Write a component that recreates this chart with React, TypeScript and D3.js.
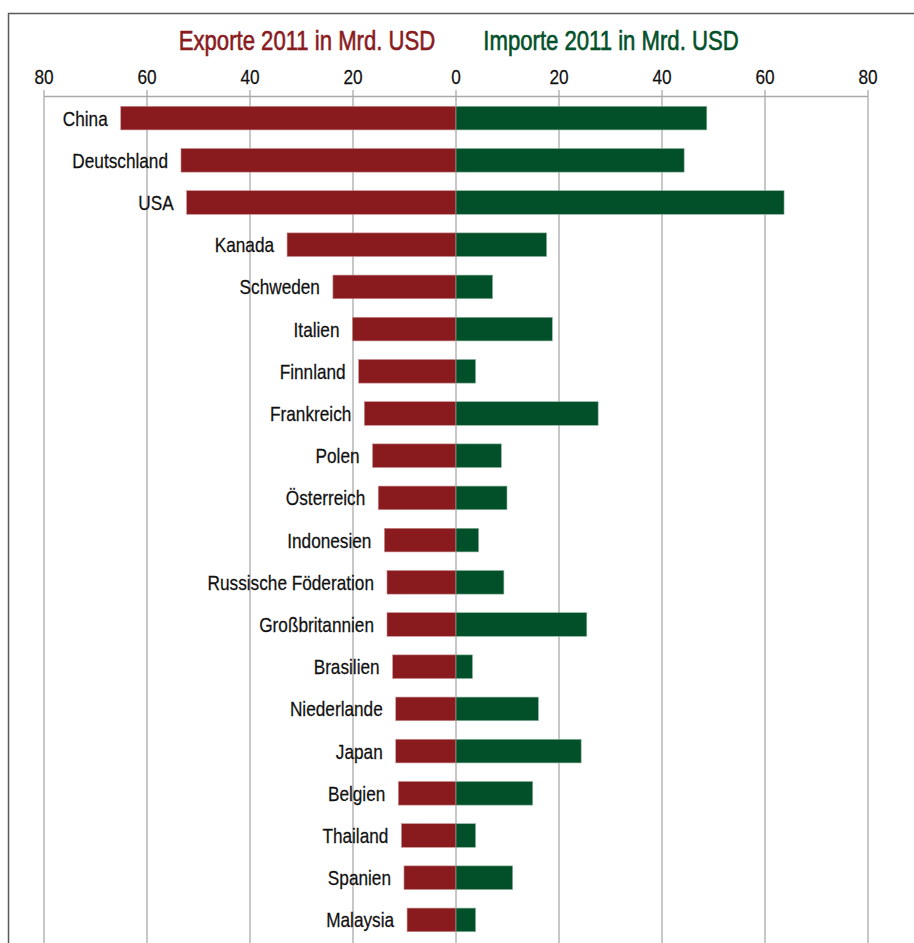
import React from "react";
import * as d3 from "d3";

const countries = [
  "China", "Deutschland", "USA", "Kanada", "Schweden", "Italien", "Finnland",
  "Frankreich", "Polen", "Österreich", "Indonesien", "Russische Föderation",
  "Großbritannien", "Brasilien", "Niederlande", "Japan", "Belgien", "Thailand",
  "Spanien", "Malaysia",
];
const exporte = [65.1, 53.4, 52.3, 32.8, 23.9, 20.1, 18.9, 17.8, 16.2, 15.1, 13.9, 13.4, 13.4, 12.3, 11.7, 11.7, 11.2, 10.6, 10.1, 9.5];
const importe = [48.7, 44.3, 63.7, 17.6, 7.1, 18.7, 3.8, 27.6, 8.8, 9.9, 4.4, 9.3, 25.4, 3.2, 16.0, 24.3, 14.9, 3.8, 11.0, 3.8];
const tickValues = [-80, -60, -40, -20, 0, 20, 40, 60, 80];
const titleExport = "Exporte 2011 in Mrd. USD";
const titleImport = "Importe 2011 in Mrd. USD";

const RED = "#891b1e";
const GREEN = "#02502a";
const FONT = "'Liberation Sans', Arial, sans-serif";
const NARROW = 0.82;

function NText({ x, y, anchor, size, fill, children, dy, sw }: any) {
  return (
    <text
      transform={`translate(${x},${y}) scale(${NARROW},1)`}
      textAnchor={anchor}
      fontSize={size}
      fill={fill}
      stroke={fill}
      strokeWidth={sw || 0}
      dy={dy}
    >
      {children}
    </text>
  );
}

export default function App() {
  const W = 914, H = 943;
  const x = d3.scaleLinear().domain([-80, 80]).range([44, 868]);
  const y = d3.scaleBand<string>().domain(countries).range([97, 941]).paddingInner(0.44).paddingOuter(0.22);
  const axisY = 96.5;
  return (
    <div style={{ position: "absolute", left: 0, top: 0 }}>
      <svg width={W} height={H} style={{ display: "block", fontFamily: FONT }}>
        <rect x={0} y={0} width={W} height={H} fill="#fff" />
        {/* frame */}
        <path d={`M8.5,${H} V13.5 H${W}`} fill="none" stroke="#5a5a5a" strokeWidth={1.5} />
        {/* titles */}
        <NText x={307} y={50} anchor="middle" size={27} fill={RED} sw={0.6}>{titleExport}</NText>
        <NText x={611} y={50} anchor="middle" size={27} fill={GREEN} sw={0.6}>{titleImport}</NText>
        {/* gridlines and ticks */}
        {tickValues.map((t) => (
          <g key={t}>
            <line x1={x(t)} x2={x(t)} y1={90} y2={H} stroke="#a9a9a9" strokeWidth={1.3} />
            <NText x={x(t)} y={84} anchor="middle" size={21} fill="#111" sw={0.25}>{Math.abs(t)}</NText>
          </g>
        ))}
        <line x1={x(-80)} x2={x(80)} y1={axisY} y2={axisY} stroke="#a9a9a9" strokeWidth={1.3} />
        {/* bars */}
        {countries.map((c, i) => {
          const yy = y(c)!;
          const bh = y.bandwidth();
          return (
            <g key={c}>
              <rect x={x(-exporte[i])} y={yy} width={x(0) - x(-exporte[i])} height={bh} fill={RED} stroke="#c98f90" strokeWidth={0.6} />
              <rect x={x(0)} y={yy} width={x(importe[i]) - x(0)} height={bh} fill={GREEN} stroke="#8fb59f" strokeWidth={0.6} />
              <NText x={x(-exporte[i]) - 13} y={yy + bh / 2} dy="0.36em" anchor="end" size={21} fill="#111" sw={0.25}>{c}</NText>
            </g>
          );
        })}
      </svg>
    </div>
  );
}
